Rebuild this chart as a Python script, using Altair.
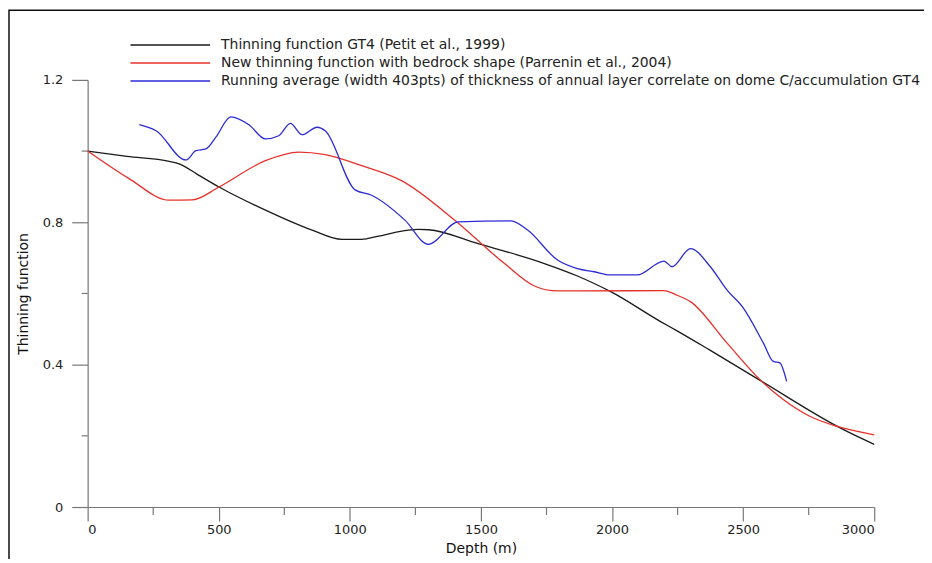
import altair as alt
import pandas as pd

series_names = [
    "Thinning function GT4 (Petit et al., 1999)",
    "New thinning function with bedrock shape (Parrenin et al., 2004)",
    "Running average (width 403pts) of thickness of annual layer correlate on dome C/accumulation GT4",
]
series_colors = ["#1a1a1a", "#e8302a", "#2b2bd6"]

gt4_depth = [0, 150, 311, 349, 420, 501, 678, 856, 970, 1045, 1109, 1223, 1261, 1300,
             1489, 1742, 1868, 1932, 1995, 2185, 2248, 2375, 2571, 2881, 3000]
gt4_value = [1.0, 0.985, 0.971, 0.964, 0.934, 0.899, 0.834, 0.778, 0.752, 0.752, 0.761, 0.778, 0.780, 0.779,
             0.740, 0.684, 0.649, 0.628, 0.605, 0.521, 0.495, 0.440, 0.353, 0.218, 0.176]

par_depth = [0, 159, 311, 400, 501, 678, 805, 906, 1045, 1197, 1400, 1590, 1704, 1792,
             1868, 2198, 2248, 2299, 2438, 2571, 2653, 2754, 2856, 3000]
par_value = [1.0, 0.922, 0.862, 0.863, 0.899, 0.973, 0.997, 0.990, 0.959, 0.917, 0.806, 0.684, 0.621, 0.607,
             0.607, 0.608, 0.595, 0.577, 0.461, 0.353, 0.302, 0.255, 0.227, 0.203]

run_depth = [197, 261, 375, 413, 451, 489, 546, 615, 678, 729, 773, 818, 875, 906, 1020, 1083,
             1210, 1299, 1413, 1615, 1678, 1792, 1868, 1932, 1995, 2096, 2198, 2229, 2299,
             2375, 2438, 2501, 2577, 2615, 2640, 2666]
run_value = [1.074, 1.057, 0.975, 1.001, 1.006, 1.039, 1.096, 1.074, 1.034, 1.043, 1.078, 1.046, 1.067, 1.057, 0.891, 0.876,
             0.806, 0.738, 0.801, 0.804, 0.778, 0.694, 0.670, 0.661, 0.652, 0.652, 0.691, 0.675, 0.726,
             0.675, 0.610, 0.559, 0.461, 0.409, 0.405, 0.353]

x_major = [0, 500, 1000, 1500, 2000, 2500, 3000]
x_minor = [250, 750, 1250, 1750, 2250, 2750]
y_major = [0, 0.4, 0.8, 1.2]
y_minor = [0.2, 0.6, 1.0]

rows = []
for name, ds, vs in zip(series_names, [gt4_depth, par_depth, run_depth], [gt4_value, par_value, run_value]):
    for i, (d, v) in enumerate(zip(ds, vs)):
        rows.append({"series": name, "depth": d, "value": v, "order": i})
df = pd.DataFrame(rows)

FONT = "DejaVu Sans"
W, H = 790, 429

x_enc = alt.X("depth:Q", scale=alt.Scale(domain=[0, 3000], nice=False, zero=False),
              axis=alt.Axis(values=x_major, format="d", title="Depth (m)", tickSize=14,
                            labelPadding=3, titlePadding=5, grid=False))
y_enc = alt.Y("value:Q", scale=alt.Scale(domain=[0, 1.2], nice=False),
              axis=alt.Axis(values=y_major, format=".2~f", title="Thinning function", tickSize=16,
                            labelPadding=9, titlePadding=12, grid=False))

lines = alt.Chart(df).mark_line(strokeWidth=1.3, interpolate="monotone").encode(
    x=x_enc,
    y=y_enc,
    color=alt.Color("series:N",
                    scale=alt.Scale(domain=series_names, range=series_colors),
                    legend=alt.Legend(title=None, orient="none", legendX=42, legendY=-44,
                                      direction="vertical", symbolType="stroke", symbolSize=6400,
                                      symbolStrokeWidth=1.5, clipHeight=18, rowPadding=0,
                                      labelFontSize=14, labelFont=FONT, labelColor="#222",
                                      labelOffset=10, padding=0, labelLimit=1000)),
    order="order:Q",
)

xminor = alt.Chart(pd.DataFrame({"depth": x_minor})).mark_rule(color="#777", strokeWidth=1.2).encode(
    x=x_enc,
    y=alt.value(H), y2=alt.value(H + 8),
)
yminor = alt.Chart(pd.DataFrame({"value": y_minor})).mark_rule(color="#777", strokeWidth=1.2).encode(
    y=y_enc,
    x=alt.value(-6), x2=alt.value(0),
)

frame = alt.Chart(pd.DataFrame({"k": [0]})).mark_rect(filled=False, stroke="#111", strokeWidth=1.5).encode(
    x=alt.value(-79), x2=alt.value(1000), y=alt.value(-70), y2=alt.value(700),
)

chart = alt.layer(lines, xminor, yminor, frame).properties(
    width=W, height=H, autosize="none",
    padding={"left": 80, "top": 71, "right": 50, "bottom": 51},
).configure(font=FONT).configure_view(stroke="transparent", strokeWidth=0).configure_axis(
    domainColor="#777", tickColor="#777", labelColor="#222", titleColor="#111",
    labelFont=FONT, titleFont=FONT, labelFontSize=13, titleFontSize=14, titleFontWeight="normal",
    domainWidth=1.2, tickWidth=1.2,
)

chart.save("out.html", embed_options={"renderer": "svg", "actions": False})
